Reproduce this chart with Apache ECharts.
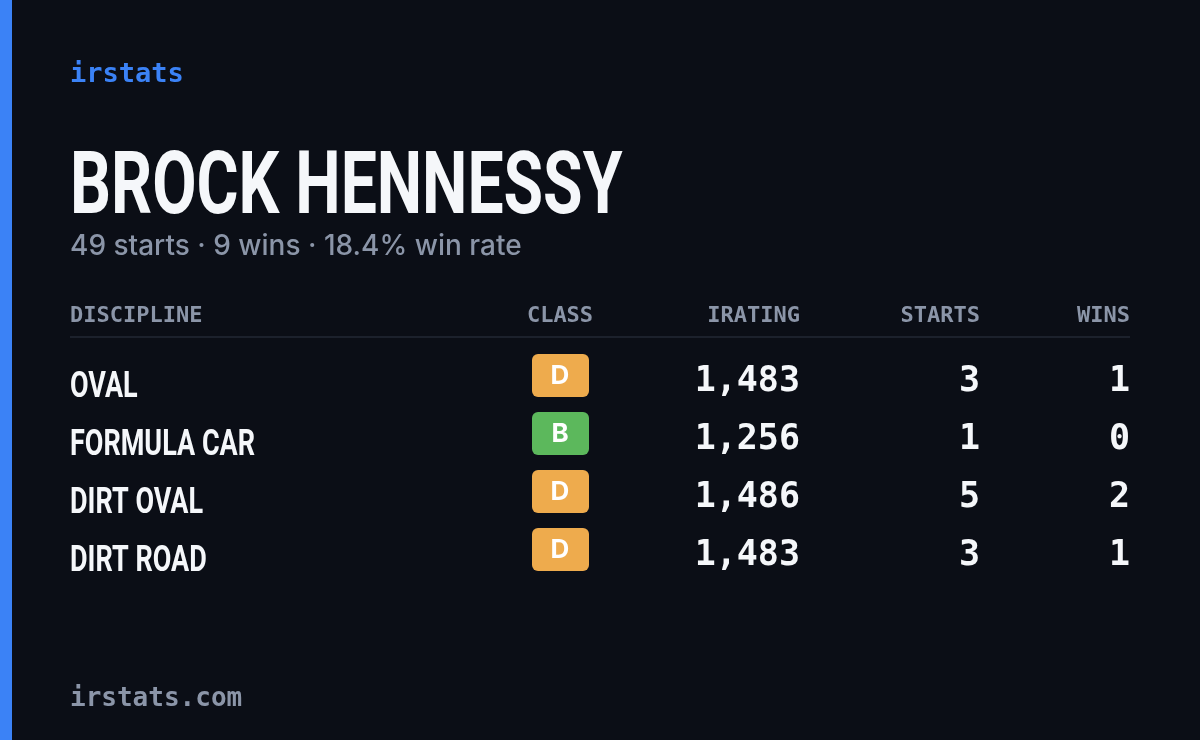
<!DOCTYPE html><html><head><meta charset="utf-8"><script src="https://cdn.jsdelivr.net/npm/echarts@6/dist/echarts.min.js"></script>
<style>html,body{margin:0;background:#0b0e16}#c{width:1200px;height:740px}</style></head><body><div id="c"></div><script>
const disciplines=['OVAL','FORMULA CAR','DIRT OVAL','DIRT ROAD'];
const classes=['D','B','D','D'];
const iratings=[1483,1256,1486,1483];
const starts=[3,1,5,3];
const wins=[1,0,2,1];
const headers=['DISCIPLINE','CLASS','IRATING','STARTS','WINS'];
const classColors={D:'#eeab4d',B:'#5cb85c'};
const chart=echarts.init(document.getElementById('c'));
const mono='DejaVu Sans Mono';
const g=[
 {type:'rect',shape:{x:0,y:0,width:1200,height:740},style:{fill:'#0b0e16'}},
 {type:'rect',shape:{x:0,y:0,width:12,height:740},style:{fill:'#3b82f6'}},
 {type:'text',x:70,y:75,style:{text:'irstats',font:'bold 27px '+mono,fill:'#3b82f6',verticalAlign:'middle'}},
 {type:'text',x:70,y:191,scaleX:0.73,style:{text:'BROCK HENNESSY',font:'bold 88px Roboto',fill:'#f5f7fa',verticalAlign:'middle'}},
 {type:'text',x:70,y:247,style:{text:'49 starts · 9 wins · 18.4% win rate',font:'500 28px Inter',fill:'#8b95a8',verticalAlign:'middle'}},
 {type:'line',shape:{x1:70,y1:337,x2:1130,y2:337},style:{stroke:'#1c212c',lineWidth:2}},
 {type:'text',x:70,y:699,style:{text:'irstats.com',font:'bold 26px '+mono,fill:'#8b95a8',verticalAlign:'middle'}}
];
const hx=[[70,'left'],[560,'center'],[800,'right'],[980,'right'],[1130,'right']];
headers.forEach((h,i)=>g.push({type:'text',x:hx[i][0],y:316,style:{text:h,font:'bold 22px '+mono,fill:'#8b95a8',align:hx[i][1],verticalAlign:'middle'}}));
disciplines.forEach((d,i)=>{
 const y=376+58*i;
 g.push({type:'text',x:70,y:y+12,scaleX:0.75,style:{text:d,font:'bold 36px Roboto',fill:'#f5f7fa',verticalAlign:'middle'}});
 g.push({type:'rect',shape:{x:532,y:y-22,width:57,height:43,r:6},style:{fill:classColors[classes[i]]}});
 g.push({type:'text',x:560,y:y,style:{text:classes[i],font:'bold 26px Inter',fill:'#ffffff',align:'center',verticalAlign:'middle'}});
 g.push({type:'text',x:800,y:y+6,style:{text:iratings[i].toLocaleString('en-US'),font:'bold 35px '+mono,fill:'#f5f7fa',align:'right',verticalAlign:'middle'}});
 g.push({type:'text',x:980,y:y+6,style:{text:String(starts[i]),font:'bold 35px '+mono,fill:'#f5f7fa',align:'right',verticalAlign:'middle'}});
 g.push({type:'text',x:1130,y:y+6,style:{text:String(wins[i]),font:'bold 35px '+mono,fill:'#f5f7fa',align:'right',verticalAlign:'middle'}});
});
chart.setOption({backgroundColor:'#0b0e16',graphic:{elements:g}});
</script></body></html>
